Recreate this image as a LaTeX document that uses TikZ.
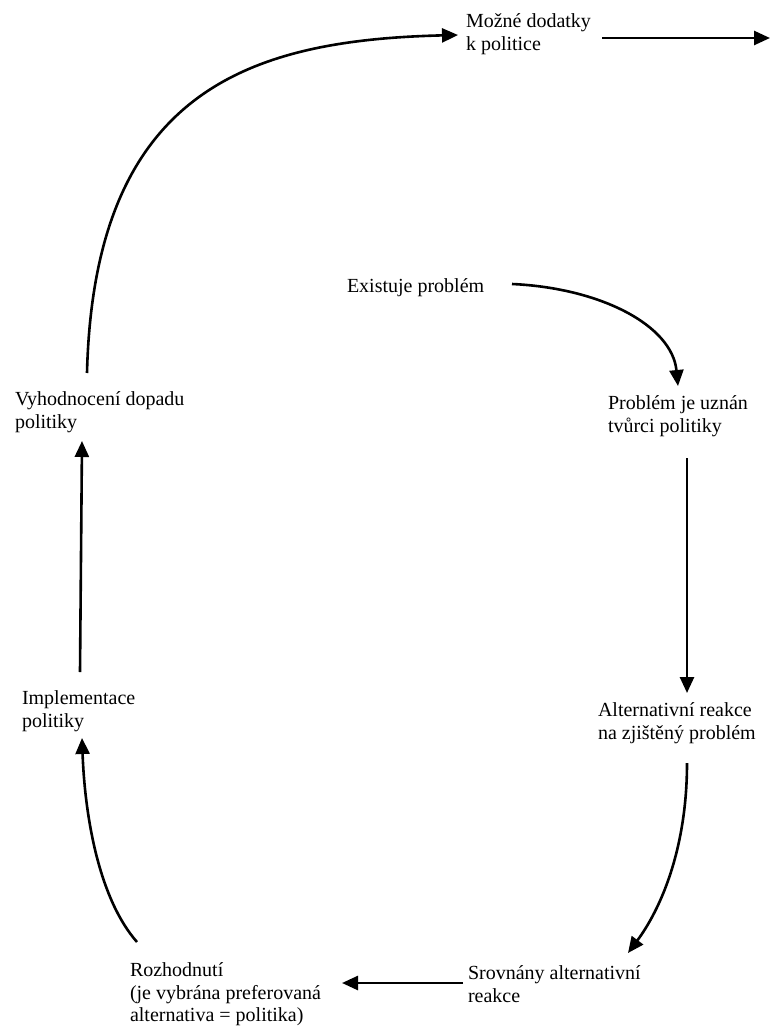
\documentclass[tikz,border=0pt]{standalone}
\usepackage{fontspec}
\setmainfont{Liberation Serif}
\usetikzlibrary{arrows.meta}
\begin{document}
\begin{tikzpicture}[x=1pt,y=-1pt,
  lbl/.style={anchor=north west,inner sep=0pt,outer sep=0pt,align=left,
    font=\fontsize{20}{22.5}\selectfont},
  conn/.style={line width=2.6pt,-{Triangle[length=16pt,width=14pt]}}]
\useasboundingbox (0,0) rectangle (771,1030);
\node[lbl] (moz) at (466,12.25) {\strut Možné dodatky\\\strut k politice};
\node[lbl] (exist) at (347,276.25) {\strut Existuje problém};
\node[lbl] (vyh) at (15,390) {\strut Vyhodnocení dopadu\\\strut politiky};
\node[lbl] (prob) at (608,394) {\strut Problém je uznán\\\strut tvůrci politiky};
\node[lbl] (alt) at (598,701) {\strut Alternativní reakce\\\strut na zjištěný problém};
\node[lbl] (srov) at (468,964) {\strut Srovnány alternativní\\\strut reakce};
\node[lbl] (roz) at (130,961) {\strut Rozhodnutí\\\strut (je vybrána preferovaná\\\strut alternativa = politika)};
\node[lbl] (impl) at (22,689) {\strut Implementace\\\strut politiky};
\coordinate (out) at (770,38);
% connectors
\draw[conn] ([shift={(72pt,17pt)}]vyh.north west) .. controls (94,90) and (250,40) .. ([shift={(-8pt,-22.75pt)}]moz.north west);
\draw[conn] ([shift={(136pt,-25.75pt)}]moz.north west) -- (out);
\draw[conn] ([shift={(165pt,-7.75pt)}]exist.north west) .. controls (600,288) and (672,325) .. ([shift={(70pt,8pt)}]prob.north west);
\draw[conn] ([shift={(79pt,-64pt)}]prob.north west) -- ([shift={(89pt,8pt)}]alt.north west);
\draw[conn] ([shift={(89pt,-62pt)}]alt.north west) .. controls (687,850) and (660,910) .. ([shift={(160pt,11pt)}]srov.north west);
\draw[conn] ([shift={(-5pt,-19pt)}]srov.north west) -- ([shift={(212pt,-22pt)}]roz.north west);
\draw[conn] ([shift={(7pt,19pt)}]roz.north west) .. controls (100,900) and (85,820) .. ([shift={(60pt,-49pt)}]impl.north west);
\draw[conn] ([shift={(58pt,17pt)}]impl.north west) -- ([shift={(67pt,-51pt)}]vyh.north west);
\end{tikzpicture}
\end{document}
